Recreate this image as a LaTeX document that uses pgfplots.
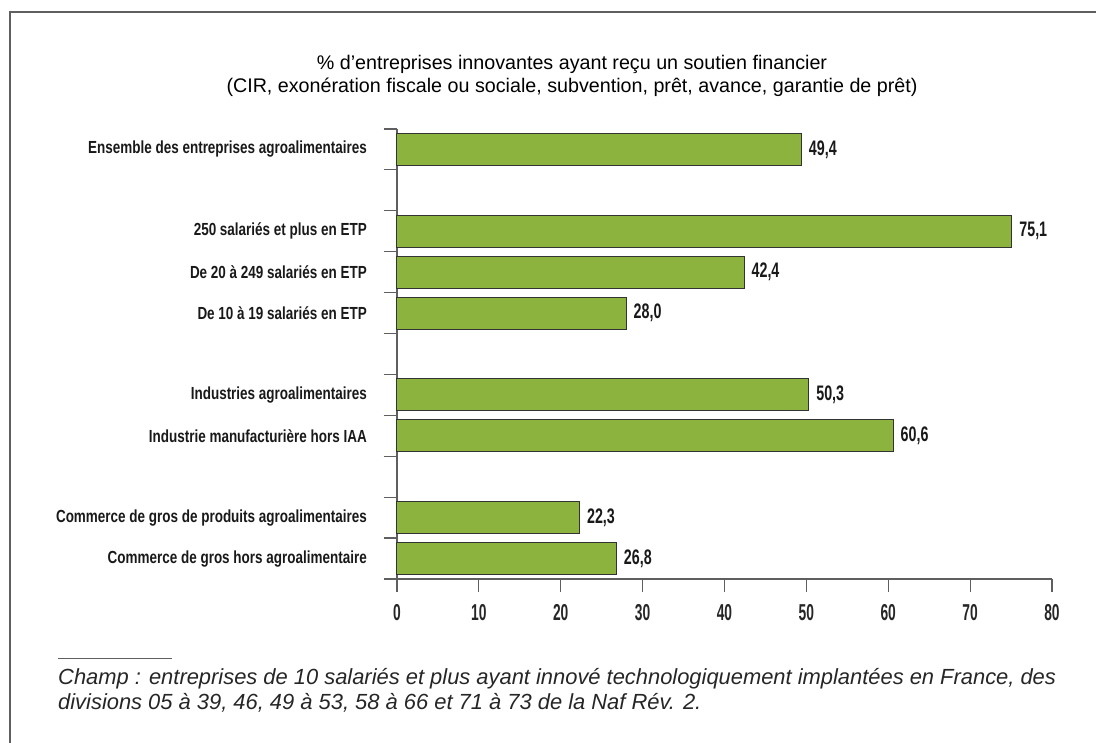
\documentclass[border=0pt]{standalone}
\usepackage{pgfplots}
\pgfplotsset{compat=1.18}
\usepackage{fontspec}
\setmainfont{Liberation Sans}
\newfontfamily\catfont[FakeStretch=0.77]{Liberation Sans Bold}
\newfontfamily\valfont[FakeStretch=0.68]{Liberation Sans Bold}
\newfontfamily\tickfont[FakeStretch=0.6]{Liberation Sans Bold}
\definecolor{bargreen}{RGB}{141,179,63}
\definecolor{axgray}{RGB}{95,95,95}
\begin{document}
\begin{tikzpicture}
\path[use as bounding box] (0pt,0pt) rectangle (1096pt,743pt);
\draw[axgray, line width=1.5pt] (10pt,-2pt) -- (10pt,731pt) -- (1100pt,731pt);
\node[font=\fontsize{19.7}{23}\selectfont, align=center] at (572pt,667pt)
  {\% d’entreprises innovantes ayant reçu un soutien financier\\(CIR, exonération fiscale ou sociale, subvention, prêt, avance, garantie de prêt)};
\draw[axgray, line width=0.8pt] (58pt,85pt) -- (172pt,85pt);
\node[anchor=base west, inner sep=0pt, font=\itshape\fontsize{21.9}{23}\selectfont, text=black!85] at (58pt,58pt)
  {Champ : entreprises de 10 salariés et plus ayant innové technologiquement implantées en France, des};
\node[anchor=base west, inner sep=0pt, font=\itshape\fontsize{21.9}{23}\selectfont, text=black!85] at (58pt,33pt)
  {divisions 05 à 39, 46, 49 à 53, 58 à 66 et 71 à 73 de la Naf Rév. 2.};
\begin{axis}[
  at={(397pt,164pt)}, anchor=south west,
  scale only axis, width=655pt, height=450pt,
  xbar, bar width=32pt,
  xmin=0, xmax=80, ymin=-0.5, ymax=10.5,
  axis x line*=bottom, axis y line*=left,
  axis line style={axgray, line width=1.2pt},
  tick align=outside,
  major tick length=0pt, minor tick length=13pt,
  tick style={axgray, line width=1.2pt},
  xtick={0,10,...,80}, minor xtick={0,10,...,80},
  ytick={0,1,3,4,6,7,8,10},
  yticklabels={Commerce de gros hors agroalimentaire,
    Commerce de gros de produits agroalimentaires,
    Industrie manufacturière hors IAA,
    Industries agroalimentaires,
    De 10 à 19 salariés en ETP,
    De 20 à 249 salariés en ETP,
    250 salariés et plus en ETP,
    Ensemble des entreprises agroalimentaires},
  minor ytick={-0.5,0.5,...,10.5},
  /pgf/number format/assume math mode=true,
  xticklabel style={anchor=north, inner sep=0pt, yshift=-25pt, text=black!85, font=\tickfont\fontsize{23}{23}\selectfont},
  yticklabel style={anchor=east, inner sep=0pt, xshift=-30pt, text=black!90, font=\catfont\fontsize{17.5}{19}\selectfont},
  nodes near coords={\pgfmathprintnumber[fixed,fixed zerofill,precision=1,use comma,assume math mode=true]{\pgfplotspointmeta}},
  nodes near coords style={anchor=west, inner sep=0pt, xshift=7pt, text=black!90, font=\valfont\fontsize{21}{21}\selectfont},
  clip=false,
]
\addplot[fill=bargreen, draw=black!80, line width=1pt] coordinates {
  (49.4,10) (75.1,8) (42.4,7) (28.0,6) (50.3,4) (60.6,3) (22.3,1) (26.8,0)
};
\end{axis}
\end{tikzpicture}
\end{document}
